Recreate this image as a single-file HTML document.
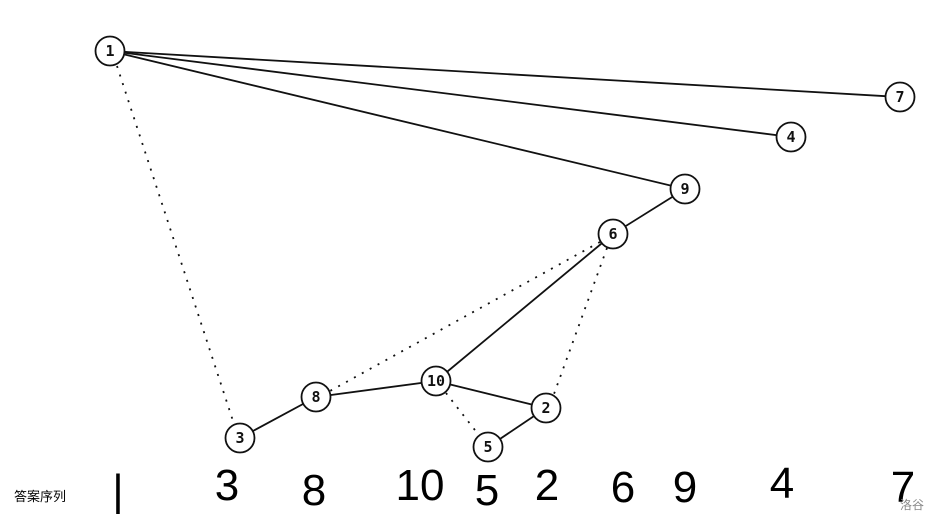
<!DOCTYPE html>
<html><head><meta charset="utf-8"><style>
body{margin:0;background:#fff;width:941px;height:524px;overflow:hidden}
</style></head><body>
<svg width="941" height="524" xmlns="http://www.w3.org/2000/svg">
<g stroke="#111" stroke-width="1.8" fill="none">
<line x1="110" y1="51" x2="900" y2="97"/>
<line x1="110" y1="51" x2="791" y2="137"/>
<line x1="110" y1="51" x2="685" y2="189"/>
<line x1="685" y1="189" x2="613" y2="234"/>
<line x1="613" y1="234" x2="436" y2="381"/>
<line x1="436" y1="381" x2="316" y2="397"/>
<line x1="436" y1="381" x2="546" y2="408"/>
<line x1="316" y1="397" x2="240" y2="438"/>
<line x1="546" y1="408" x2="488" y2="447"/>
</g>
<g stroke="#111" stroke-width="1.8" stroke-dasharray="2,7" fill="none">
<line x1="117" y1="66" x2="234" y2="424"/>
<line x1="600" y1="242" x2="330" y2="391"/>
<line x1="607" y1="248" x2="554" y2="394"/>
<line x1="446" y1="393" x2="478" y2="434"/>
</g>
<g stroke="#111" stroke-width="1.8" fill="#fff">
<circle cx="110" cy="51" r="14.5"/><circle cx="900" cy="97" r="14.5"/>
<circle cx="791" cy="137" r="14.5"/><circle cx="685" cy="189" r="14.5"/>
<circle cx="613" cy="234" r="14.5"/><circle cx="436" cy="381" r="14.5"/>
<circle cx="316" cy="397" r="14.5"/><circle cx="546" cy="408" r="14.5"/>
<circle cx="240" cy="438" r="14.5"/><circle cx="488" cy="447" r="14.5"/>
</g>
<g font-family="DejaVu Sans Mono, monospace" font-size="15" font-weight="bold" fill="#111" text-anchor="middle">
<text x="110" y="56">1</text><text x="900" y="102">7</text>
<text x="791" y="142">4</text><text x="685" y="194">9</text>
<text x="613" y="239">6</text><text x="436" y="386">10</text>
<text x="316" y="402">8</text><text x="546" y="413">2</text>
<text x="240" y="443">3</text><text x="488" y="452">5</text>
</g>
<g font-family="Liberation Sans Narrow, Liberation Sans, sans-serif" font-size="44" fill="#000" text-anchor="middle">
<text x="118" y="505">|</text><text x="227" y="500">3</text>
<text x="314" y="505">8</text><text x="420" y="500">10</text>
<text x="487" y="505">5</text><text x="547" y="500">2</text>
<text x="623" y="502">6</text><text x="685" y="502">9</text>
<text x="782" y="498">4</text><text x="903" y="502">7</text>
</g>
<text x="14" y="501" font-family="Liberation Sans, Noto Sans CJK SC, sans-serif" font-size="13" fill="#000">答案序列</text>
<text x="900" y="509" font-family="Liberation Sans, Noto Sans CJK SC, sans-serif" font-size="12" fill="#888">洛谷</text>
</svg>
</body></html>
